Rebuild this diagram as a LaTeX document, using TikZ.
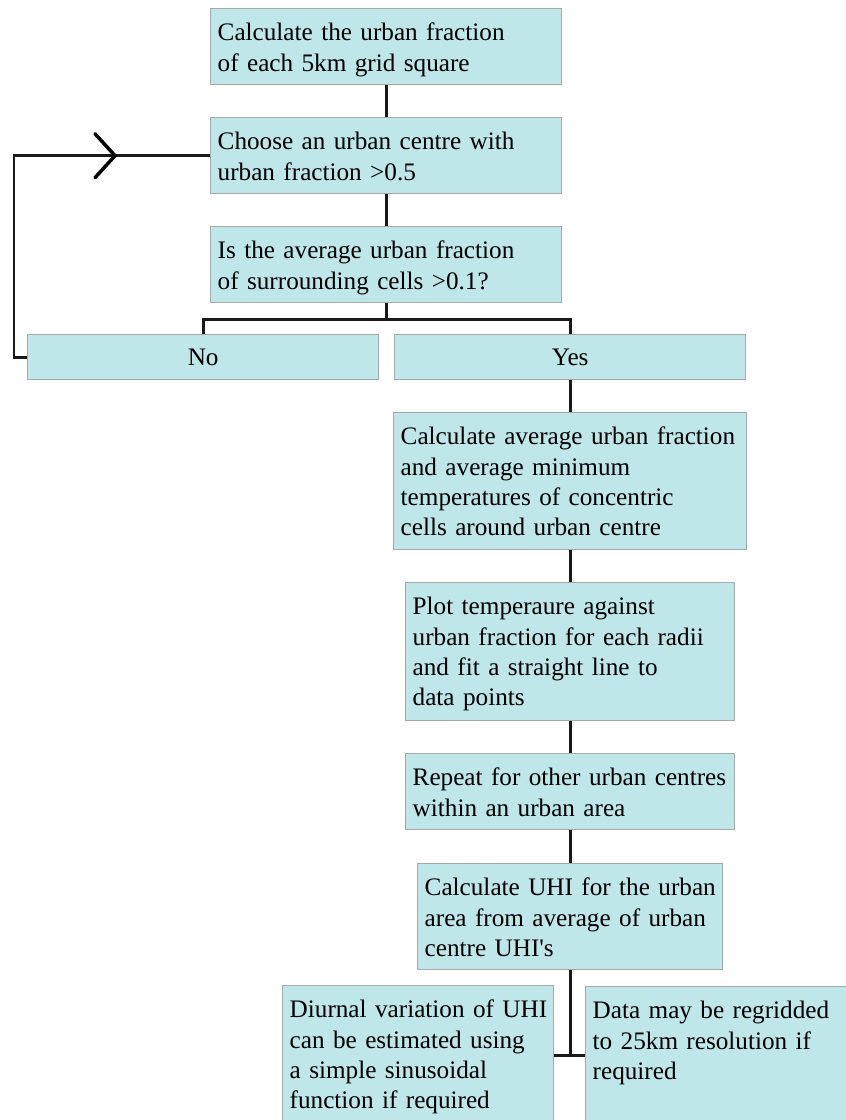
\documentclass[tikz,border=0pt]{standalone}
\usepackage{fontspec}
\setmainfont{Liberation Serif}
\usetikzlibrary{calc}
\definecolor{boxfill}{HTML}{BFE6E9}
\definecolor{boxline}{HTML}{A8A8A8}
\newcommand\oneline[1]{\mbox{#1}}
\begin{document}
\begin{tikzpicture}[x=1pt,y=1pt,
  every node/.style={font=\fontsize{25.2}{30.3}\selectfont},
  box/.style={draw=boxline, line width=1.4pt, fill=boxfill, anchor=north west,
    inner xsep=7pt, inner ysep=0pt, align=left, text height=32pt},
  choice/.style={draw=boxline, line width=1.4pt, fill=boxfill, anchor=north west,
    inner sep=0pt, align=center, minimum width=351pt, minimum height=45pt,
    text height=17pt, text depth=0pt},
  link/.style={draw=black!90, line width=2.8pt},
  chev/.style={draw=black, line width=3.5pt, line cap=round, line join=miter}]
\useasboundingbox (0,0) rectangle (846,-1120);

\node[box, text width=337pt, text depth=44pt] (b1) at (210,-8)
  {\oneline{Calculate the urban fraction}\\\oneline{of each 5km grid square}};
\node[box, text width=337pt, text depth=44pt] (b2) at (210,-117)
  {\oneline{Choose an urban centre with}\\\oneline{urban fraction >0.5}};
\node[box, text width=337pt, text depth=44pt] (b3) at (210,-226)
  {\oneline{Is the average urban fraction}\\\oneline{of surrounding cells >0.1?}};
\node[choice] (no) at (27,-334) {No};
\node[choice] (yes) at (394,-334) {Yes};
\node[box, text width=339pt, text depth=105pt] (b4) at (393,-412)
  {\oneline{Calculate average urban fraction}\\\oneline{and average minimum}\\\oneline{temperatures of concentric}\\\oneline{cells around urban centre}};
\node[box, text width=315pt, text depth=106pt] (b5) at (405,-582)
  {\oneline{Plot temperaure against}\\\oneline{urban fraction for each radii}\\\oneline{and fit a straight line to}\\\oneline{data points}};
\node[box, text width=315pt, text depth=44pt] (b6) at (405,-753)
  {\oneline{Repeat for other urban centres}\\\oneline{within an urban area}};
\node[box, text width=291pt, text depth=74pt] (b7) at (417,-863)
  {\oneline{Calculate UHI for the urban}\\\oneline{area from average of urban}\\\oneline{centre UHI\textquotesingle s}};
\node[box, text width=257pt, text depth=108pt] (b8) at (282,-985)
  {\oneline{Diurnal variation of UHI}\\\oneline{can be estimated using}\\\oneline{a simple sinusoidal}\\\oneline{function if required}};
\node[box, text width=270pt, text depth=106pt] (b9) at (585,-986)
  {\oneline{Data may be regridded}\\\oneline{to 25km resolution if}\\\oneline{required}};

\draw[link] (b1.south) -- (b2.north);
\draw[link] (b2.south) -- (b3.north);
\coordinate (br) at ($(b3.south)+(0,-16)$);
\draw[link] (b3.south) -- (br);
\draw[link] (no.north) |- (br) -| (yes.north);
\coordinate (lp) at ($(no.west)+(-13,0)$);
\draw[link] (no.west) -- (lp) |- (b2.west);
\coordinate (tip) at ($(b2.west)+(-95,0)$);
\draw[chev] ($(tip)+(-20,22)$) -- (tip) -- ($(tip)+(-20,-22)$);
\draw[link] (yes.south) -- (b4.north);
\draw[link] (b4.south) -- (b5.north);
\draw[link] (b5.south) -- (b6.north);
\draw[link] (b6.south) -- (b7.north);
\draw[link] (b7.south) -- (b7.south |- b8.east);
\draw[link] (b8.east) -- (b9.west);
\end{tikzpicture}
\end{document}
